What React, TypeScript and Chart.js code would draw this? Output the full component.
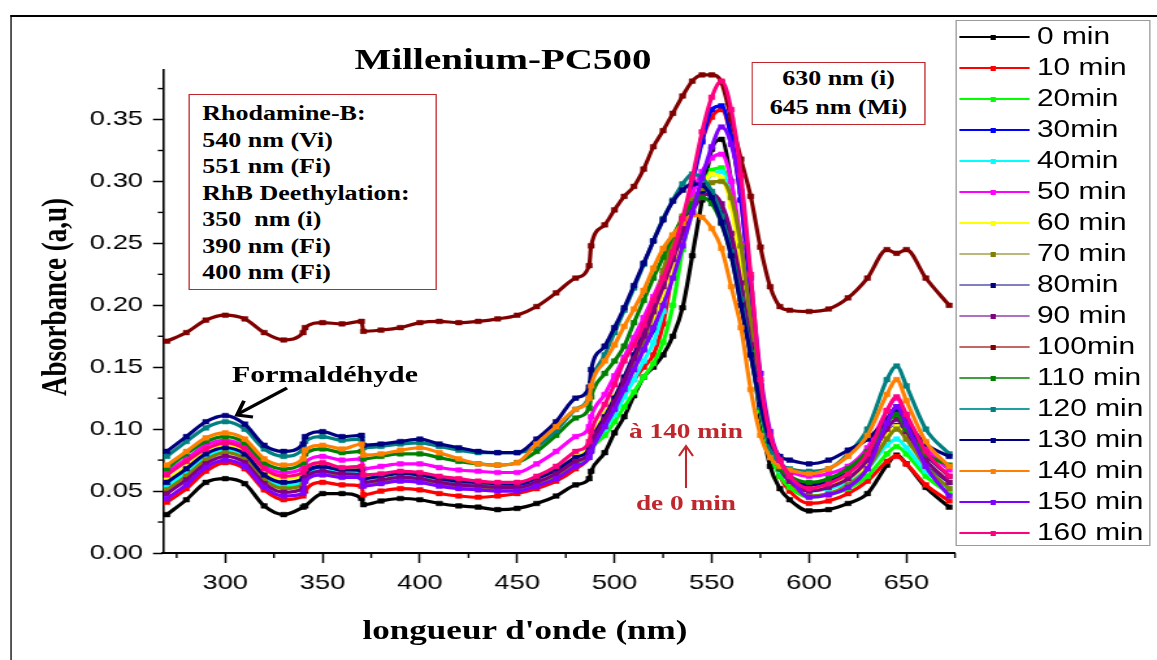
import React, { useEffect, useRef } from "react";
import { Chart, registerables } from "chart.js";

Chart.register(...registerables);

// The reference figure is horizontally stretched; draw at a narrower width and stretch.
const STRETCH = 1.3;
const BASE_W = 1157 / STRETCH;
const H = 660;

const wavelengths = [270,280,290,300,310,320,330,340,341,350,360,370,371,380,390,400,410,420,430,440,450,460,470,480,487,488,495,500,505,510,515,520,525,530,535,540,545,550,555,560,565,570,575,580,585,590,600,610,620,630,640,645,650,660,672];

const abs0 = [.031,.043,.057,.060,.056,.038,.031,.037, .038, .048,.048,.044, .039, .042,.044,.043,.040,.038,.037,.035,.036,.040,.046,.055, .060,.066, .081,.097,.110,.127,.142,.150,.160,.175,.198,.240,.285,.326,.334,.300,.240,.170,.110,.070,.052,.043, .034,.035,.040,.048,.071,.079,.072,.053,.037];
const abs10 = [.041,.052,.066,.073,.068,.051,.043,.046, .050, .057,.055,.054, .047, .050,.052,.051,.048,.046,.045,.046,.048,.052,.058,.068, .078,.083, .105,.118,.130,.140,.150,.160,.185,.228,.265,.300,.333,.352,.358,.335,.285,.210,.130,.085,.062,.050, .040,.042,.048,.058,.074,.078,.072,.055,.042];
const abs20 = [.052,.064,.077,.082,.077,.060,.053,.057, .060, .065,.063,.062, .056, .058,.060,.059,.055,.053,.052,.051,.052,.055,.062,.072, .078,.083, .095,.106,.118,.130,.142,.153,.170,.200,.245,.275,.296,.309,.311,.288,.238,.172,.115,.080,.062,.053, .045,.047,.052,.062,.080,.086,.080,.062,.048];
const abs30 = [.055,.066,.079,.084,.079,.062,.056,.059, .062, .068,.066,.066, .059, .062,.064,.062,.058,.056,.055,.054,.054,.057,.063,.074, .081,.087, .106,.120,.135,.150,.165,.180,.200,.228,.262,.298,.332,.358,.361,.336,.285,.210,.135,.092,.070,.060, .052,.054,.060,.072,.095,.103,.095,.073,.057];
const abs40 = [.054,.065,.078,.083,.078,.061,.055,.058, .061, .067,.065,.064, .058, .060,.062,.061,.057,.055,.054,.053,.053,.056,.062,.072, .078,.083, .100,.112,.126,.140,.155,.170,.195,.235,.258,.278,.295,.306,.308,.286,.236,.172,.118,.085,.067,.058, .050,.052,.057,.068,.087,.092,.085,.066,.052];
const abs50 = [.065,.076,.087,.091,.086,.070,.065,.069, .073, .078,.075,.076, .068, .070,.072,.072,.069,.067,.066,.065,.065,.072,.082,.094, .102,.110, .128,.143,.158,.174,.190,.207,.225,.245,.268,.290,.308,.319,.322,.300,.250,.185,.125,.090,.072,.066, .062,.064,.070,.085,.115,.125,.110,.085,.067];
const abs60 = [.059,.070,.082,.087,.082,.066,.060,.063, .066, .071,.068,.069, .061, .062,.064,.063,.060,.058,.057,.056,.057,.060,.067,.078, .086,.092, .112,.126,.141,.157,.172,.190,.209,.230,.252,.275,.295,.306,.303,.280,.230,.170,.118,.085,.068,.060, .052,.055,.060,.072,.095,.102,.093,.074,.058];
const abs70 = [.051,.062,.075,.081,.076,.059,.052,.055, .058, .064,.062,.061, .055, .057,.059,.058,.055,.053,.052,.051,.051,.055,.062,.073, .080,.085, .105,.120,.135,.152,.170,.195,.228,.252,.272,.285,.294,.299,.300,.287,.248,.188,.128,.090,.070,.058, .046,.048,.055,.068,.092,.100,.092,.070,.052];
const abs80 = [.057,.068,.080,.085,.080,.063,.057,.060, .064, .070,.067,.067, .060, .062,.064,.063,.060,.058,.057,.056,.056,.060,.067,.077, .084,.090, .110,.125,.142,.160,.178,.198,.218,.240,.262,.280,.290,.288,.275,.250,.210,.165,.118,.085,.068,.060, .055,.058,.065,.080,.108,.115,.105,.080,.062];
const abs90 = [.048,.059,.072,.078,.073,.056,.049,.052, .060, .066,.064,.063, .057, .059,.061,.060,.057,.055,.054,.053,.053,.057,.064,.074, .081,.087, .108,.122,.139,.157,.175,.195,.215,.237,.258,.276,.288,.290,.282,.258,.218,.168,.120,.086,.068,.058, .050,.053,.060,.075,.100,.108,.098,.075,.057];
const abs100 = [.171,.178,.188,.192,.189,.178,.172,.178, .182, .186,.185,.187, .179, .180,.182,.186,.187,.186,.187,.189,.192,.199,.210,.222, .232,.248, .265,.277,.288,.296,.310,.328,.341,.355,.369,.381,.386,.386,.380,.350,.318,.288,.247,.215,.199,.196, .195,.197,.206,.222,.245,.242,.245,.222,.200];
const abs110 = [.068,.080,.090,.094,.089,.073,.068,.073, .080, .084,.081,.082, .076, .078,.080,.080,.077,.074,.072,.071,.073,.082,.095,.109, .117,.126, .145,.155,.167,.186,.204,.222,.239,.256,.270,.282,.287,.282,.266,.240,.200,.160,.118,.085,.068,.062, .057,.060,.068,.082,.105,.112,.100,.080,.071];
const abs120 = [.078,.090,.101,.106,.100,.084,.078,.084, .090, .094,.091,.092, .085, .086,.088,.089,.086,.083,.081,.081,.081,.086,.099,.116, .127,.137, .160,.178,.196,.214,.233,.252,.270,.285,.298,.306,.303,.292,.272,.243,.205,.162,.118,.085,.072,.068, .066,.068,.080,.100,.140,.151,.135,.100,.080];
const abs130 = [.082,.094,.106,.111,.104,.087,.082,.088, .094, .098,.094,.095, .087, .088,.090,.092,.088,.085,.082,.081,.081,.092,.106,.125, .134,.148, .167,.182,.198,.216,.234,.252,.269,.284,.293,.298,.297,.287,.267,.240,.200,.160,.120,.090,.078,.075, .072,.075,.083,.092,.108,.118,.106,.088,.078];
const abs140 = [.071,.082,.093,.097,.092,.076,.071,.076, .083, .087,.084,.088, .079, .080,.083,.085,.081,.076,.072,.071,.073,.088,.102,.116, .125,.135, .155,.168,.183,.197,.212,.230,.246,.257,.266,.273,.271,.262,.246,.215,.182,.132,.095,.077,.070,.067, .064,.068,.078,.095,.128,.140,.123,.090,.070];
const abs150 = [.044,.055,.069,.075,.070,.053,.046,.048, .058, .063,.061,.061, .054, .056,.058,.057,.054,.052,.051,.050,.050,.054,.060,.070, .077,.082, .102,.116,.132,.148,.164,.182,.200,.222,.248,.275,.303,.328,.344,.330,.292,.222,.145,.098,.075,.062, .045,.047,.053,.068,.105,.118,.104,.070,.046];
const abs160 = [.063,.074,.084,.089,.084,.068,.062,.065, .068, .073,.069,.070, .063, .064,.066,.065,.062,.060,.058,.057,.057,.062,.070,.082, .090,.098, .120,.136,.155,.168,.184,.204,.222,.243,.270,.303,.340,.368,.381,.358,.305,.225,.140,.095,.075,.062, .052,.056,.064,.080,.115,.126,.112,.082,.062];

const seriesLabels = ["0 min","10 min","20min","30min","40min","50 min","60 min","70 min","80min","90 min","100min","110 min","120 min","130 min","140 min","150 min","160 min"];
const seriesValues = [abs0,abs10,abs20,abs30,abs40,abs50,abs60,abs70,abs80,abs90,abs100,abs110,abs120,abs130,abs140,abs150,abs160];
const markerColors = ["#000000","#FF0000","#00FF00","#0000FF","#00FFFF","#FF00FF","#FFFF00","#808000","#000080","#800080","#800000","#008000","#008080","#000080","#FF8000","#8000FF","#FF0080"];
const legendLineColors = ["#000000","#FF0000","#00FF00","#0000FF","#00FFFF","#FF00FF","#FFFF00","#B8B878","#8080C0","#B070C0","#C06868","#40A040","#20A0A0","#000080","#FF8000","#8000FF","#FF0080"];

const xMin = 268;
const xMax = 675;
const yMin = 0;
const yMax = 0.39;
const xMinorTicks = [275,325,375,425,475,525,575,625,675];
const yMinorTicks = [0.025,0.075,0.125,0.175,0.225,0.275,0.325,0.375];

const SANS = '"Liberation Sans", Arial, sans-serif';
const SERIF = '"Liberation Serif", "Times New Roman", serif';
const RED = "#C0272D";

const PLOT_LEFT = 163 / STRETCH;
const PLOT_RIGHT = 955 / STRETCH;
const PLOT_TOP = 70;
const PLOT_BOTTOM = 553;

const minorTicksPlugin = {
  id: "minorTicks",
  afterDraw(chart: any) {
    const ctx = chart.ctx;
    const xs = chart.scales.x;
    const ys = chart.scales.y;
    const area = chart.chartArea;
    ctx.save();
    ctx.strokeStyle = "#000";
    ctx.lineWidth = 1.4;
    for (const v of yMinorTicks) {
      const py = ys.getPixelForValue(v);
      ctx.beginPath();
      ctx.moveTo(area.left - 4, py);
      ctx.lineTo(area.left, py);
      ctx.stroke();
    }
    for (const v of xMinorTicks) {
      if (v > xMax) continue;
      const px = xs.getPixelForValue(v);
      ctx.beginPath();
      ctx.moveTo(px, area.bottom);
      ctx.lineTo(px, area.bottom + 5);
      ctx.stroke();
    }
    ctx.restore();
  },
};

function ChartCanvas() {
  const ref = useRef<HTMLCanvasElement | null>(null);
  useEffect(() => {
    if (!ref.current) return;
    const datasets = seriesValues.map((vals, i) => ({
      label: seriesLabels[i],
      data: wavelengths.map((w, k) => ({ x: w, y: vals[k] })),
      borderColor: markerColors[i],
      backgroundColor: markerColors[i],
      pointBackgroundColor: markerColors[i],
      pointBorderColor: markerColors[i],
      pointBorderWidth: 0.5,
      pointStyle: "rect",
      pointRadius: 3.3,
      borderWidth: 3.2,
      cubicInterpolationMode: "monotone",
      fill: false,
      order: seriesValues.length - i,
    }));
    const chart = new Chart(ref.current, {
      type: "line",
      data: { datasets } as any,
      options: {
        responsive: false,
        animation: false,
        devicePixelRatio: 1,
        layout: { padding: { left: 0, top: PLOT_TOP, right: BASE_W - PLOT_RIGHT, bottom: 0 } },
        plugins: { legend: { display: false }, tooltip: { enabled: false }, title: { display: false } },
        scales: {
          x: {
            type: "linear",
            min: xMin,
            max: xMax,
            afterFit: (s: any) => { s.height = H - PLOT_BOTTOM; },
            ticks: {
              stepSize: 50,
              includeBounds: false,
              autoSkip: false,
              maxRotation: 0,
              color: "#000",
              padding: 8,
              font: { family: SANS, size: 21 },
              callback: (v: any) => String(v),
            },
            grid: { drawOnChartArea: false, drawTicks: true, tickLength: 10, tickColor: "#000", tickWidth: 1.5 },
            border: { display: true, color: "#000", width: 2 },
          },
          y: {
            type: "linear",
            min: yMin,
            max: yMax,
            afterFit: (s: any) => { s.width = PLOT_LEFT; },
            ticks: {
              stepSize: 0.05,
              includeBounds: false,
              color: "#000",
              padding: 7.7,
              font: { family: SANS, size: 21 },
              callback: (v: any) => Number(v).toFixed(2),
            },
            grid: { drawOnChartArea: false, drawTicks: true, tickLength: 7.7, tickColor: "#000", tickWidth: 1.5 },
            border: { display: true, color: "#000", width: 1.6 },
          },
        },
      } as any,
      plugins: [minorTicksPlugin],
    });
    return () => chart.destroy();
  }, []);
  return <canvas ref={ref} width={Math.round(BASE_W)} height={H} style={{ position: "absolute", left: 0, top: 0 }} />;
}

const sx = (v: number) => v / STRETCH;

export default function App() {
  return (
    <div
      style={{
        position: "fixed",
        left: 0,
        top: 0,
        width: BASE_W,
        height: H,
        transform: `scaleX(${STRETCH})`,
        transformOrigin: "0 0",
        background: "#fff",
        overflow: "hidden",
      }}
    >
      <div
        style={{
          position: "absolute",
          left: sx(10),
          top: 15,
          width: 2000,
          height: 2000,
          borderTop: "2px solid #000",
          borderLeft: "1.6px solid #000",
        }}
      />
      <ChartCanvas />

      {/* Title */}
      <div
        style={{
          position: "absolute",
          left: sx(503) - 200,
          width: 400,
          top: 42,
          lineHeight: "30px",
          textAlign: "center",
          font: `bold 30px ${SERIF}`,
          color: "#000",
          whiteSpace: "nowrap",
        }}
      >
        Millenium-PC500
      </div>

      {/* Y axis title */}
      <div
        style={{
          position: "absolute",
          left: sx(55) - 150,
          top: 297 - 15,
          width: 300,
          height: 30,
          lineHeight: "30px",
          textAlign: "center",
          font: `bold 27px ${SERIF}`,
          color: "#000",
          transform: "rotate(-90deg)",
          whiteSpace: "nowrap",
        }}
      >
        Absorbance (a,u)
      </div>

      {/* X axis title */}
      <div
        style={{
          position: "absolute",
          left: sx(525) - 200,
          width: 400,
          top: 630 - 15,
          lineHeight: "30px",
          textAlign: "center",
          font: `bold 27px ${SERIF}`,
          color: "#000",
          whiteSpace: "nowrap",
        }}
      >
        longueur d'onde (nm)
      </div>

      {/* Box 1 */}
      <div
        style={{
          position: "absolute",
          left: sx(188),
          top: 94,
          width: sx(437 - 188),
          height: 196,
          boxSizing: "border-box",
          border: `1.5px solid ${RED}`,
          paddingTop: 5,
          paddingLeft: sx(203 - 188) - 1.5,
          font: `bold 20px ${SERIF}`,
          lineHeight: "26.5px",
          color: "#000",
          whiteSpace: "nowrap",
          background: "#fff",
        }}
      >
        <div>Rhodamine-B:</div>
        <div>540 nm (Vi)</div>
        <div>551 nm (Fi)</div>
        <div>RhB Deethylation:</div>
        <div>350&nbsp;&nbsp;nm (i)</div>
        <div>390 nm (Fi)</div>
        <div>400 nm (Fi)</div>
      </div>

      {/* Box 2 */}
      <div
        style={{
          position: "absolute",
          left: sx(752),
          top: 62,
          width: sx(925 - 752),
          height: 63,
          boxSizing: "border-box",
          border: `1.5px solid ${RED}`,
          paddingTop: 1,
          textAlign: "center",
          font: `bold 20px ${SERIF}`,
          lineHeight: "29px",
          color: "#000",
          whiteSpace: "nowrap",
          background: "#fff",
        }}
      >
        <div>630 nm (i)</div>
        <div>645 nm (Mi)</div>
      </div>

      {/* Formaldehyde label */}
      <div
        style={{
          position: "absolute",
          left: sx(325) - 120,
          width: 240,
          top: 376 - 14,
          lineHeight: "28px",
          textAlign: "center",
          font: `bold 23px ${SERIF}`,
          color: "#000",
          whiteSpace: "nowrap",
        }}
      >
        Formaldéhyde
      </div>

      {/* Red annotations */}
      <div
        style={{
          position: "absolute",
          left: sx(686) - 100,
          width: 200,
          top: 432 - 13,
          lineHeight: "26px",
          textAlign: "center",
          font: `bold 21px ${SERIF}`,
          color: RED,
          whiteSpace: "nowrap",
        }}
      >
        à 140 min
      </div>
      <div
        style={{
          position: "absolute",
          left: sx(686) - 100,
          width: 200,
          top: 504 - 13,
          lineHeight: "26px",
          textAlign: "center",
          font: `bold 21px ${SERIF}`,
          color: RED,
          whiteSpace: "nowrap",
        }}
      >
        de 0 min
      </div>

      <svg
        width={BASE_W}
        height={H}
        style={{ position: "absolute", left: 0, top: 0, pointerEvents: "none" }}
      >
        <line x1={sx(287)} y1={388} x2={sx(238)} y2={414} stroke="#000" strokeWidth={3} />
        <polyline
          points={`${sx(244)},${400.7} ${sx(237)},${415} ${sx(253)},${417}`}
          fill="none"
          stroke="#000"
          strokeWidth={3}
        />
        <line x1={sx(686)} y1={488} x2={sx(686)} y2={447} stroke={RED} strokeWidth={1.6} />
        <polyline
          points={`${sx(679)},${456} ${sx(686)},${446} ${sx(693)},${456}`}
          fill="none"
          stroke={RED}
          strokeWidth={1.6}
        />
      </svg>

      {/* Legend */}
      <div
        style={{
          position: "absolute",
          left: sx(955),
          top: 20,
          width: sx(1150 - 955),
          height: 526,
          boxSizing: "border-box",
          border: "1.5px solid #9a9a9a",
          background: "#fff",
        }}
      />
      {seriesLabels.map((lab, i) => {
        const cy = 37 + 31 * i;
        return (
          <React.Fragment key={lab}>
            <div
              style={{
                position: "absolute",
                left: sx(960),
                top: cy - 0.75,
                width: sx(1030 - 960),
                height: 1.5,
                background: legendLineColors[i],
              }}
            />
            <div
              style={{
                position: "absolute",
                left: sx(993) - 2.3,
                top: cy - 2.5,
                width: 4.6,
                height: 5,
                background: markerColors[i],
              }}
            />
            <div
              style={{
                position: "absolute",
                left: sx(1037),
                top: cy - 14,
                lineHeight: "28px",
                font: `23px ${SANS}`,
                color: "#000",
                whiteSpace: "nowrap",
              }}
            >
              {lab}
            </div>
          </React.Fragment>
        );
      })}
    </div>
  );
}
